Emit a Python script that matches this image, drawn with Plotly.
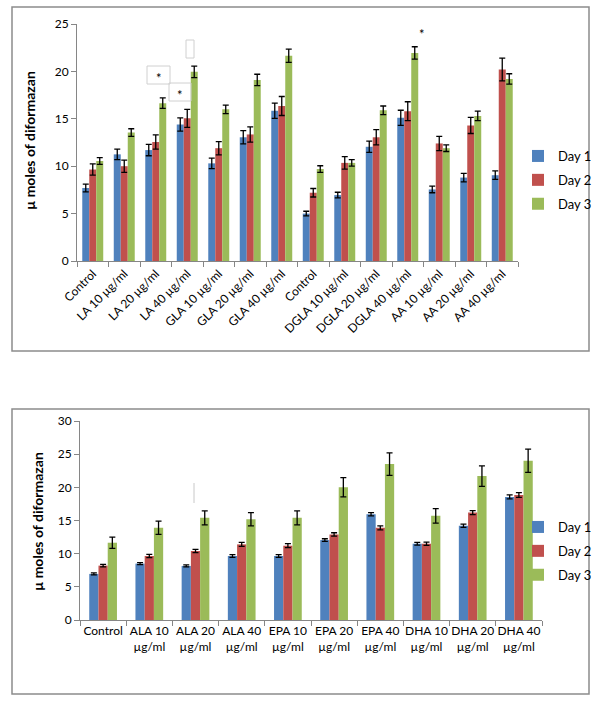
import plotly.graph_objects as go

# ---------------- data: top chart ----------------
top_labels = ["Control", "LA 10 µg/ml", "LA 20 µg/ml", "LA 40 µg/ml",
              "GLA 10 µg/ml", "GLA 20 µg/ml", "GLA 40 µg/ml",
              "Control", "DGLA 10 µg/ml", "DGLA 20 µg/ml", "DGLA 40 µg/ml",
              "AA 10 µg/ml", "AA 20 µg/ml", "AA 40 µg/ml"]
top_day1 = [7.7, 11.25, 11.7, 14.4, 10.3, 13.05, 15.85, 5.0, 6.95, 12.05, 15.1, 7.55, 8.8, 9.05]
top_day2 = [9.65, 10.0, 12.55, 15.05, 11.9, 13.35, 16.35, 7.2, 10.35, 13.05, 15.8, 12.4, 14.3, 20.2]
top_day3 = [10.55, 13.55, 16.65, 19.95, 16.0, 19.1, 21.65, 9.7, 10.35, 15.9, 21.95, 11.9, 15.3, 19.2]
top_err1 = [0.4, 0.55, 0.6, 0.7, 0.55, 0.7, 0.8, 0.25, 0.3, 0.6, 0.8, 0.35, 0.45, 0.45]
top_err2 = [0.6, 0.65, 0.75, 0.95, 0.7, 0.8, 1.0, 0.45, 0.65, 0.8, 1.0, 0.75, 0.85, 1.2]
top_err3 = [0.35, 0.4, 0.55, 0.6, 0.45, 0.6, 0.7, 0.35, 0.35, 0.45, 0.65, 0.35, 0.5, 0.55]

# ---------------- data: bottom chart ----------------
bot_labels = ["Control", "ALA 10<br>µg/ml", "ALA 20<br>µg/ml", "ALA 40<br>µg/ml",
              "EPA 10<br>µg/ml", "EPA 20<br>µg/ml", "EPA 40<br>µg/ml",
              "DHA 10<br>µg/ml", "DHA 20<br>µg/ml", "DHA 40<br>µg/ml"]
bot_day1 = [6.95, 8.5, 8.15, 9.65, 9.65, 12.05, 15.95, 11.5, 14.2, 18.55]
bot_day2 = [8.2, 9.65, 10.4, 11.4, 11.2, 12.9, 13.9, 11.5, 16.2, 18.85]
bot_day3 = [11.65, 13.9, 15.4, 15.2, 15.4, 20.0, 23.5, 15.7, 21.7, 24.0]
bot_err1 = [0.15, 0.15, 0.15, 0.2, 0.2, 0.2, 0.25, 0.2, 0.25, 0.3]
bot_err2 = [0.2, 0.25, 0.25, 0.3, 0.3, 0.25, 0.3, 0.25, 0.3, 0.35]
bot_err3 = [0.85, 1.0, 1.05, 1.0, 1.05, 1.45, 1.7, 1.1, 1.55, 1.75]

series_names = ["Day 1", "Day 2", "Day 3"]
colors = ["#4F81BD", "#C0504D", "#9BBB59"]

W, H = 600, 702
FONT = "Lato"

def px(x):
    return x / W

def py(y):
    return 1 - y / H

fig = go.Figure()

top_vals = [top_day1, top_day2, top_day3]
top_errs = [top_err1, top_err2, top_err3]
bot_vals = [bot_day1, bot_day2, bot_day3]
bot_errs = [bot_err1, bot_err2, bot_err3]

tw = 0.222
for i in range(3):
    fig.add_trace(go.Bar(
        x=list(range(len(top_labels))), y=top_vals[i], name=series_names[i],
        marker=dict(color=colors[i], line=dict(width=0)),
        width=tw, offset=-1.5 * tw + i * tw,
        error_y=dict(type="data", array=top_errs[i], color="#000000", thickness=1.3, width=3),
        xaxis="x", yaxis="y", legend="legend", legendgroup="t%d" % i,
    ))

bw = 0.2
for i in range(3):
    fig.add_trace(go.Bar(
        x=list(range(len(bot_labels))), y=bot_vals[i], name=series_names[i],
        marker=dict(color=colors[i], line=dict(width=0)),
        width=bw, offset=-1.5 * bw + i * bw,
        error_y=dict(type="data", array=bot_errs[i], color="#000000", thickness=1.3, width=3),
        xaxis="x2", yaxis="y2", legend="legend2", legendgroup="b%d" % i,
    ))

axis_col = "#868686"
tick_font = dict(family=FONT, size=12, color="#000000")

nt = len(top_labels)
nb = len(bot_labels)

fig.update_layout(
    width=W, height=H, autosize=False,
    margin=dict(l=0, r=0, t=0, b=0),
    paper_bgcolor="white", plot_bgcolor="white",
    barmode="overlay",
    font=dict(family=FONT, size=12, color="#000000"),
    xaxis=dict(
        domain=[px(77), px(518)], anchor="y", range=[-0.5, nt - 0.5],
        tickvals=list(range(nt)), ticktext=top_labels, tickangle=-45,
        ticks="", showline=True, linecolor=axis_col, linewidth=1,
        showgrid=False, zeroline=False, tickfont=tick_font, automargin=False,
        minor=dict(tickvals=[k - 0.5 for k in range(nt + 1)], ticks="outside",
                   ticklen=5, tickcolor=axis_col, showgrid=False),
    ),
    yaxis=dict(
        domain=[py(261), py(24)], anchor="x", range=[0, 25], dtick=5,
        ticks="outside", ticklen=5, tickcolor=axis_col,
        showline=True, linecolor=axis_col, linewidth=1,
        showgrid=False, zeroline=False, tickfont=tick_font, automargin=False,
    ),
    xaxis2=dict(
        domain=[px(80), px(542)], anchor="y2", range=[-0.5, nb - 0.5],
        tickvals=list(range(nb)), ticktext=bot_labels, tickangle=0,
        ticks="", showline=True, linecolor=axis_col, linewidth=1,
        showgrid=False, zeroline=False, tickfont=tick_font, automargin=False,
        minor=dict(tickvals=[k - 0.5 for k in range(nb + 1)], ticks="outside",
                   ticklen=5, tickcolor=axis_col, showgrid=False),
    ),
    yaxis2=dict(
        domain=[py(620), py(421)], anchor="x2", range=[0, 30], dtick=5,
        ticks="outside", ticklen=5, tickcolor=axis_col,
        showline=True, linecolor=axis_col, linewidth=1,
        showgrid=False, zeroline=False, tickfont=tick_font, automargin=False,
    ),
    legend=dict(x=px(518), y=py(141), xanchor="left", yanchor="top",
                font=dict(family=FONT, size=13), tracegroupgap=4,
                bgcolor="rgba(0,0,0,0)", itemwidth=30),
    legend2=dict(x=px(518), y=py(512), xanchor="left", yanchor="top",
                 font=dict(family=FONT, size=13), tracegroupgap=4,
                 bgcolor="rgba(0,0,0,0)", itemwidth=30),
    showlegend=True,
)

shapes = [
    # outer frames
    dict(type="rect", xref="paper", yref="paper", x0=px(12), x1=px(589), y0=py(351), y1=py(7),
         line=dict(color="#8C8C8C", width=1.5)),
    dict(type="rect", xref="paper", yref="paper", x0=px(12), x1=px(589), y0=py(694), y1=py(409),
         line=dict(color="#8C8C8C", width=1.5)),
    # small annotation boxes on top chart
    dict(type="rect", xref="paper", yref="paper", x0=px(147), x1=px(170), y0=py(84), y1=py(66),
         line=dict(color="#D0D0D0", width=1)),
    dict(type="rect", xref="paper", yref="paper", x0=px(169), x1=px(191), y0=py(101), y1=py(83),
         line=dict(color="#D0D0D0", width=1)),
    dict(type="rect", xref="paper", yref="paper", x0=px(186), x1=px(194), y0=py(58), y1=py(40),
         line=dict(color="#D0D0D0", width=1)),
    # thin vertical mark on bottom chart
    dict(type="line", xref="paper", yref="paper", x0=px(194), x1=px(194), y0=py(503), y1=py(483),
         line=dict(color="#C8C8C8", width=1)),
]
fig.update_layout(shapes=shapes)

annotations = [
    dict(text="<b>µ moles of diformazan</b>", xref="paper", yref="paper",
         x=px(30), y=py(141), xanchor="center", yanchor="middle", textangle=-90,
         showarrow=False, font=dict(family=FONT, size=14)),
    dict(text="<b>µ moles of diformazan</b>", xref="paper", yref="paper",
         x=px(37), y=py(522), xanchor="center", yanchor="middle", textangle=-90,
         showarrow=False, font=dict(family=FONT, size=14)),
    dict(text="*", xref="paper", yref="paper", x=px(159), y=py(78),
         xanchor="center", yanchor="middle", showarrow=False,
         font=dict(family=FONT, size=13)),
    dict(text="*", xref="paper", yref="paper", x=px(180), y=py(95),
         xanchor="center", yanchor="middle", showarrow=False,
         font=dict(family=FONT, size=13)),
    dict(text="*", xref="paper", yref="paper", x=px(422), y=py(34),
         xanchor="center", yanchor="middle", showarrow=False,
         font=dict(family=FONT, size=13)),
]
fig.update_layout(annotations=annotations)

fig.write_html(
    "out.html",
    config={"displayModeBar": False},
    post_script="document.body.style.margin='0';document.body.style.overflow='hidden';",
)
